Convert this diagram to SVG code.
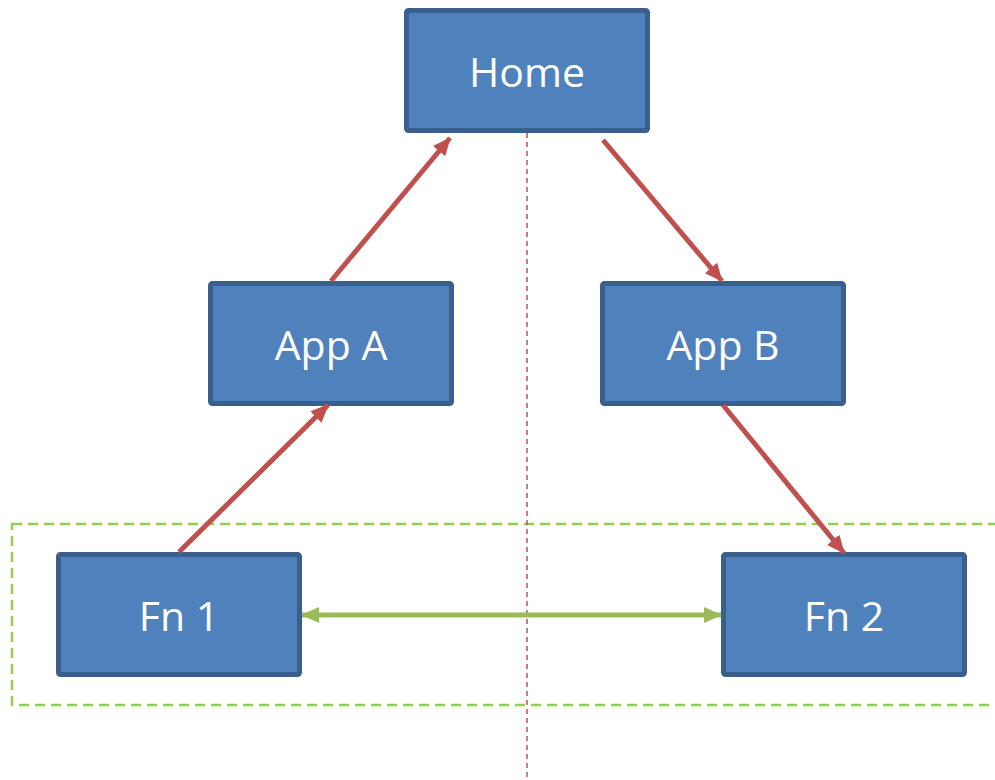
<svg xmlns="http://www.w3.org/2000/svg" width="995" height="780" viewBox="0 0 995 780">
<style>
.box{fill:#4f81bd;stroke:#3a5f8b;stroke-width:5}
.lbl{font-family:"Open Sans","Liberation Sans",sans-serif;font-size:41px;fill:#ffffff;text-anchor:middle}
.red{stroke:#c0504d;stroke-width:5;fill:none;marker-end:url(#ar)}
.grn{stroke:#9bbb59;stroke-width:5;fill:none;marker-end:url(#ag);marker-start:url(#ags)}
</style>
<defs>
<marker id="ar" markerUnits="userSpaceOnUse" viewBox="0 0 18 16" refX="17" refY="8" markerWidth="18" markerHeight="16" orient="auto"><path d="M0,0 L18,8 L0,16 z" fill="#c0504d"/></marker>
<marker id="ag" markerUnits="userSpaceOnUse" viewBox="0 0 18 16" refX="17" refY="8" markerWidth="18" markerHeight="16" orient="auto"><path d="M0,0 L18,8 L0,16 z" fill="#9bbb59"/></marker>
<marker id="ags" markerUnits="userSpaceOnUse" viewBox="0 0 18 16" refX="1" refY="8" markerWidth="18" markerHeight="16" orient="auto"><path d="M18,0 L0,8 L18,16 z" fill="#9bbb59"/></marker>
</defs>
<rect x="12" y="524" width="990" height="181" fill="none" stroke="#92d050" stroke-width="2.5" stroke-dasharray="10,6"/>
<line x1="527" y1="133" x2="527" y2="780" stroke="#c0504d" stroke-width="1.5" stroke-dasharray="5,4"/>
<g id="home"><rect class="box" x="406.5" y="10.5" width="241" height="120" rx="2"/><text class="lbl" x="527" y="87">Home</text></g>
<g id="appA"><rect class="box" x="210.5" y="283.5" width="241" height="120" rx="2"/><text class="lbl" x="331" y="360">App A</text></g>
<g id="appB"><rect class="box" x="602.5" y="283.5" width="241" height="120" rx="2"/><text class="lbl" x="723" y="360">App B</text></g>
<g id="fn1"><rect class="box" x="58.5" y="554.5" width="241" height="120" rx="2"/><text class="lbl" x="179" y="631">Fn 1</text></g>
<g id="fn2"><rect class="box" x="723.5" y="554.5" width="241" height="120" rx="2"/><text class="lbl" x="844" y="631">Fn 2</text></g>
<g id="connectors">
<line class="red" x1="331" y1="281" x2="450" y2="138"/>
<line class="red" x1="603" y1="140" x2="722" y2="281"/>
<line class="red" x1="179" y1="552" x2="328" y2="405"/>
<line class="red" x1="723" y1="405" x2="844" y2="553"/>
<line class="grn" x1="302" y1="615" x2="721" y2="615"/>
</g>
</svg>
